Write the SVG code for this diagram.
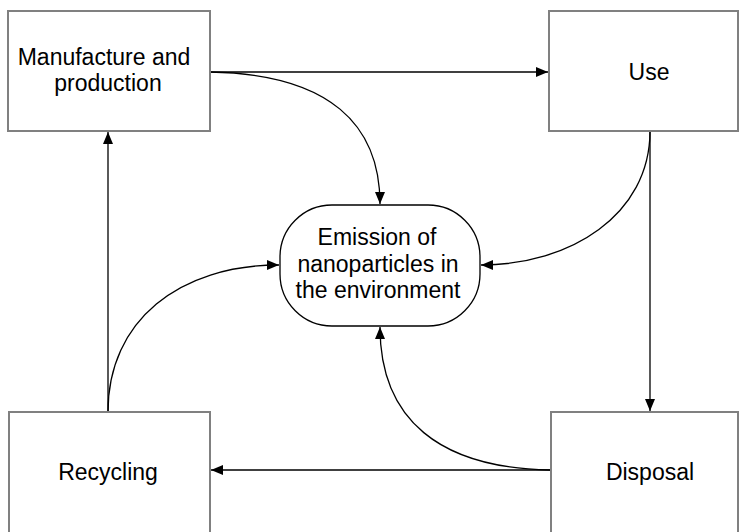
<svg xmlns="http://www.w3.org/2000/svg" width="741" height="532" viewBox="0 0 741 532">
<style>
.box{fill:#fff;stroke:#808080;stroke-width:2}
.term{fill:#fff;stroke:#000;stroke-width:1.3}
.t{font-family:"Liberation Sans",Arial,sans-serif;font-size:23px;fill:#000;text-anchor:middle}
.c{fill:none;stroke:#000;stroke-width:1.3}
</style>
<defs>
<marker id="a" viewBox="0 0 12 10" refX="12" refY="5" markerWidth="12" markerHeight="10" markerUnits="userSpaceOnUse" orient="auto">
<path d="M0,0 L12,5 L0,10 Z" fill="#000"/>
</marker>
</defs>
<g id="connectors">
<path class="c" d="M210,72 L548,72" marker-end="url(#a)"/>
<path class="c" d="M210,72 C330,74 380,125 380,204" marker-end="url(#a)"/>
<path class="c" d="M650,131 C650,215 570,265 481,265" marker-end="url(#a)"/>
<path class="c" d="M650,131 L650,411" marker-end="url(#a)"/>
<path class="c" d="M550,470 L211,470" marker-end="url(#a)"/>
<path class="c" d="M550,470 C440,468 380,420 380,327" marker-end="url(#a)"/>
<path class="c" d="M108,412 L108,132" marker-end="url(#a)"/>
<path class="c" d="M108,412 C108,320 180,265 279,265" marker-end="url(#a)"/>
</g>
<g id="manufacture">
<rect class="box" x="8" y="11" width="202" height="120"/>
<text class="t" x="104" y="65">Manufacture and</text>
<text class="t" x="108" y="91">production</text>
</g>
<g id="use">
<rect class="box" x="549" y="11" width="189" height="120"/>
<text class="t" x="649" y="80">Use</text>
</g>
<g id="recycling">
<rect class="box" x="9" y="412" width="201" height="122"/>
<text class="t" x="108" y="480">Recycling</text>
</g>
<g id="disposal">
<rect class="box" x="551" y="412" width="187" height="122"/>
<text class="t" x="650" y="480">Disposal</text>
</g>
<g id="emission">
<rect class="term" x="280" y="205" width="200" height="121" rx="52" ry="52"/>
<text class="t" x="377" y="245">Emission of</text>
<text class="t" x="378" y="272">nanoparticles in</text>
<text class="t" x="378" y="298">the environment</text>
</g>
</svg>
